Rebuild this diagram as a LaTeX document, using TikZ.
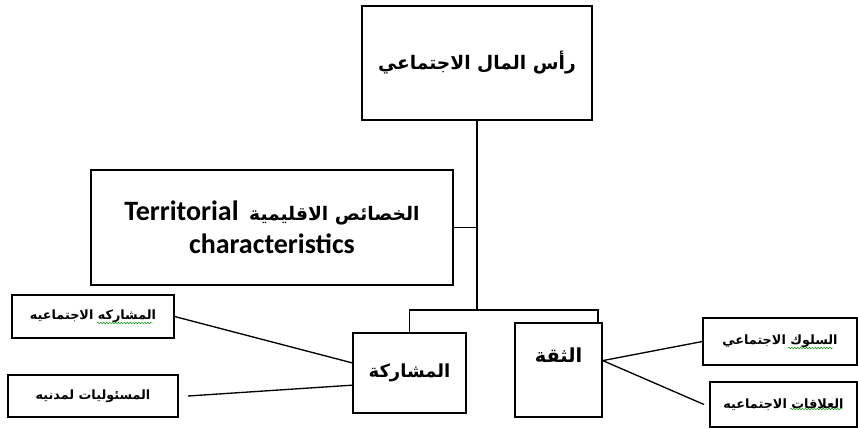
\documentclass[tikz,border=0pt]{standalone}
\usepackage{fontspec}
\usepackage{tikz}
\usetikzlibrary{calc, decorations.pathmorphing}
\TeXXeTstate=1
\newfontfamily\arabicfont[Script=Arabic]{DejaVu Sans}
\newfontfamily\latinfont{Carlito}

\begin{document}
\begin{tikzpicture}[
  x=0.75pt, y=-0.75pt,
  box/.style={draw, line width=1.1pt, inner sep=0pt, align=center, font=\arabicfont\bfseries},
  smallbox/.style={box, line width=0.9pt, font=\arabicfont\bfseries\fontsize{9.6}{11}\selectfont},
  link/.style={line width=1pt},
  squiggle/.style={green!55!black, line width=0.35pt, decorate, decoration={snake, amplitude=0.6pt, segment length=2.2pt}}
]
  \useasboundingbox (0,0) rectangle (858,429);

  % main tree
  \node[box, minimum width=230*0.75pt, minimum height=114*0.75pt, font=\arabicfont\bfseries\fontsize{14}{17}\selectfont] (cap) at (477,63) {
    \beginR رأس المال الاجتماعي\endR
  };

  \node[box, minimum width=362*0.75pt, minimum height=115*0.75pt, font=\bfseries\fontsize{21}{25}\selectfont] (terr) at (272,227.5) {
    \beginR{\arabicfont\fontsize{14}{25}\selectfont الخصائص الاقليمية} \beginL\latinfont Territorial\endL\endR\\
    \latinfont characteristics
  };

  \node[box, minimum width=113*0.75pt, minimum height=80*0.75pt, font=\arabicfont\bfseries\fontsize{13.5}{15}\selectfont] (part) at (409.5,373) {
    \beginR المشاركة\endR
  };

  \node[box, minimum width=87*0.75pt, minimum height=94*0.75pt, text depth=22pt, font=\arabicfont\bfseries\fontsize{14.5}{16}\selectfont] (trust) at (558.5,370) {
    \beginR الثقة\endR
  };

  % side boxes
  \node[smallbox, minimum width=162*0.75pt, minimum height=43*0.75pt] (social) at (93,316.5) {\beginR المشاركه الاجتماعيه\endR};
  \node[smallbox, minimum width=170*0.75pt, minimum height=42*0.75pt] (civic) at (93,396) {\beginR المسئوليات لمدنيه\endR};
  \node[smallbox, minimum width=154*0.75pt, minimum height=47*0.75pt] (behav) at (780,341.5) {\beginR السلوك الاجتماعي\endR};
  \node[smallbox, minimum width=147*0.75pt, minimum height=45*0.75pt] (relat) at (783.5,404.5) {\beginR العلاقات الاجتماعيه\endR};

  % spelling marks
  \draw[squiggle] (97,323) -- (153,323);
  \draw[squiggle] (788,348) -- (833,348);
  \draw[squiggle] (790,409) -- (843,409);

  \coordinate (bar) at (477,310);
  \coordinate (bar r) at (598,310);

  \draw[link] (cap.south) -- (bar);
  \draw[link] (terr.east) -- (terr.east -| bar);
  \draw[link] (part.north) |- (bar) -- (bar r) -- (bar r |- trust.north);

  \draw[link] (social.east) -- (part.170);
  \draw[link] ([xshift=7pt]civic.east) -- (part.192);
  \draw[link] (trust.12) -- (behav.west);
  \draw[link] (trust.12) -- ([xshift=-4pt]relat.west);
\end{tikzpicture}
\end{document}
